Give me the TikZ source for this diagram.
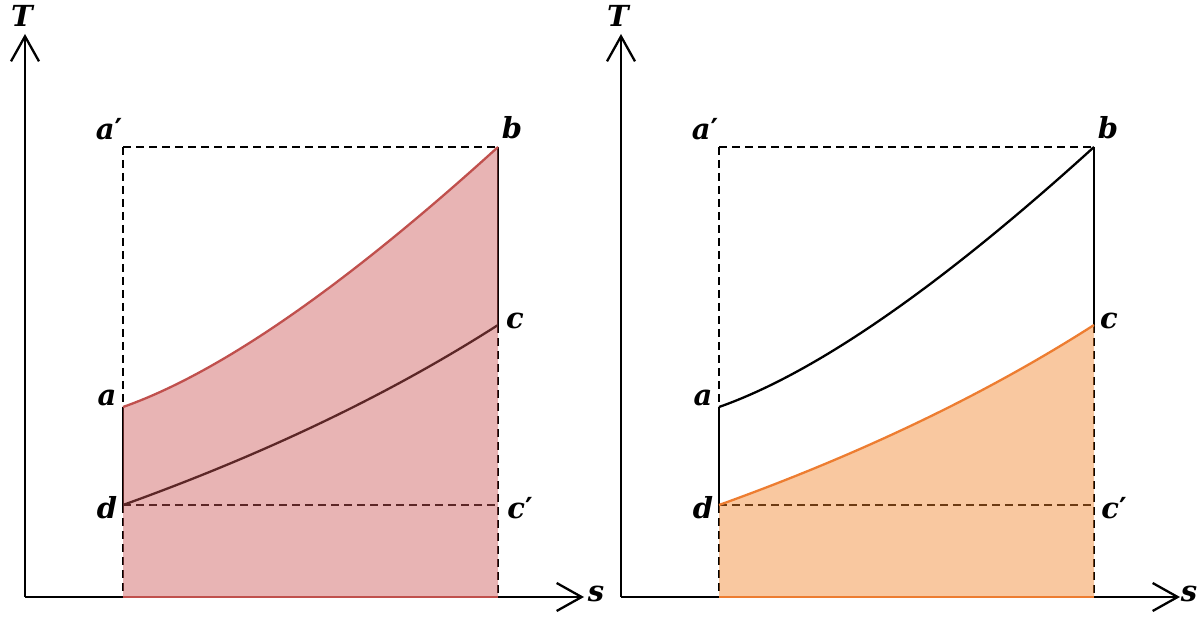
\documentclass[tikz,border=0pt]{standalone}
\usepackage{fontspec}
\newfontfamily\lblfont{DejaVu Serif}
\newfontfamily\primefont{DejaVu Sans}
\newcommand{\pr}{{\primefont\upshape\bfseries ′}}
\usetikzlibrary{arrows.meta}
\definecolor{redline}{HTML}{C0504D}
\definecolor{orangeline}{HTML}{ED7D31}
\definecolor{redfill}{HTML}{CC5858}
\definecolor{orangefill}{HTML}{F2852C}
\tikzset{
  axis/.style={line width=2.3pt,-{Straight Barb[length=25pt,width=28pt,line width=2.3pt]}},
  dashline/.style={line width=2.3pt,dash pattern=on 8pt off 5pt},
  solidline/.style={line width=2.3pt},
  lbl/.style={font=\lblfont\fontsize{29}{33}\selectfont\bfseries\itshape, inner sep=0pt},
  shade/.style={fill opacity=0.45},
}
\begin{document}
\begin{tikzpicture}[x=1pt,y=-1pt]
\useasboundingbox (0,0) rectangle (1200,620);
% ---------- left panel ----------
\coordinate (O1) at (25,597);
\coordinate (Ty1) at (25,34);
\coordinate (Sx1) at (584,597);
\coordinate (ap1) at (123,147);
\coordinate (b1) at (498,147);
\coordinate (a1) at (123,407);
\coordinate (d1) at (123,505);
\coordinate (c1) at (498,325);
\coordinate (cp1) at (498,505);
\coordinate (d01) at (123,597);
\coordinate (c01) at (498,597);
\draw[axis] (O1) -- (Ty1);
\draw[axis] (O1) -- (Sx1);
\node[lbl] (T1) at (22,16) {T};
\node[lbl] (s1) at (596,594) {s};
\draw[dashline] (ap1) -- (b1);
\draw[dashline] (ap1) -- (a1);
\draw[dashline] (d1) -- (cp1);
\draw[dashline] (d1) -- (d01);
\draw[dashline] (c1) -- (cp1) -- (c01);
\draw[solidline] (a1) -- (d1);
\draw[solidline] (b1) -- (c1);
\draw[solidline] (d1) .. controls (265.7,453.7) and (390.7,393.7) .. (c1);
\fill[redfill,shade] (a1) .. controls (219.7,373) and (344.7,286.3) .. (b1) -- (c01) -- (d01) -- cycle;
\draw[solidline,redline] (a1) .. controls (219.7,373) and (344.7,286.3) .. (b1);
\draw[solidline,redline] (d01) -- (c01);
\node[lbl] (lap1) at (109,129) {a\pr};
\node[lbl] (lb1) at (512,128) {b};
\node[lbl] (la1) at (107,398) {a};
\node[lbl] (ld1) at (107,508) {d};
\node[lbl] (lc1) at (515,321) {c};
\node[lbl] (lcp1) at (520,508) {c\pr};
% ---------- right panel ----------
\coordinate (O2) at (621,597);
\coordinate (Ty2) at (621,34);
\coordinate (Sx2) at (1180,597);
\coordinate (ap2) at (719,147);
\coordinate (b2) at (1094,147);
\coordinate (a2) at (719,407);
\coordinate (d2) at (719,505);
\coordinate (c2) at (1094,325);
\coordinate (cp2) at (1094,505);
\coordinate (d02) at (719,597);
\coordinate (c02) at (1094,597);
\draw[axis] (O2) -- (Ty2);
\draw[axis] (O2) -- (Sx2);
\node[lbl] (T2) at (618,16) {T};
\node[lbl] (s2) at (1189,594) {s};
\draw[dashline] (ap2) -- (b2);
\draw[dashline] (ap2) -- (a2);
\draw[dashline] (d2) -- (cp2);
\draw[dashline] (d2) -- (d02);
\draw[dashline] (c2) -- (cp2) -- (c02);
\draw[solidline] (a2) -- (d2);
\draw[solidline] (b2) -- (c2);
\draw[solidline] (a2) .. controls (815.7,373) and (940.7,286.3) .. (b2);
\fill[orangefill,shade] (d2) .. controls (861.7,453.7) and (986.7,393.7) .. (c2) -- (c02) -- (d02) -- cycle;
\draw[solidline,orangeline] (d2) .. controls (861.7,453.7) and (986.7,393.7) .. (c2);
\draw[solidline,orangeline] (d02) -- (c02);
\node[lbl] (lap2) at (705,129) {a\pr};
\node[lbl] (lb2) at (1108,128) {b};
\node[lbl] (la2) at (703,398) {a};
\node[lbl] (ld2) at (703,508) {d};
\node[lbl] (lc2) at (1109,321) {c};
\node[lbl] (lcp2) at (1114,508) {c\pr};
\end{tikzpicture}
\end{document}
